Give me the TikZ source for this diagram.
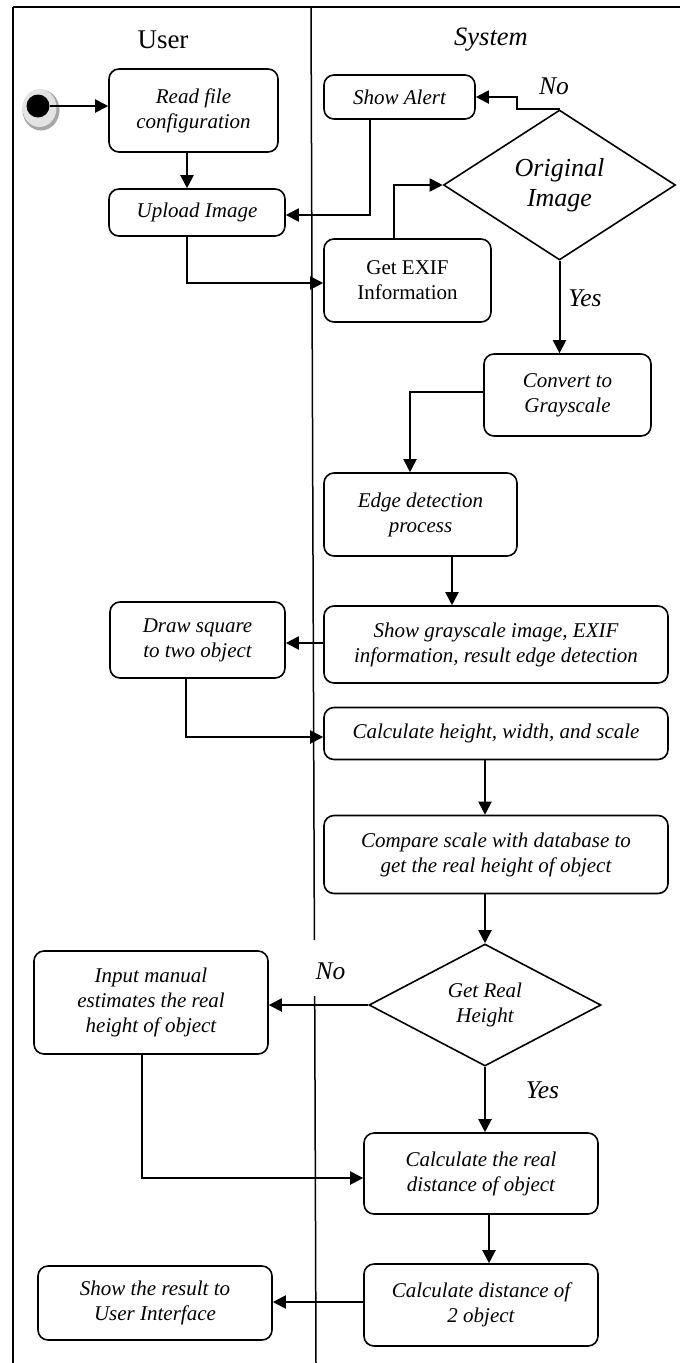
\documentclass[tikz,border=0pt]{standalone}
\usepackage{fontspec}
\setmainfont{Liberation Serif}
\usetikzlibrary{arrows.meta,shapes.geometric}
\begin{document}
\begin{tikzpicture}[x=1pt,y=-1pt,
  box/.style={draw, line width=1.6pt, rounded corners=10pt, inner sep=0pt, align=center,
    font=\itshape\fontsize{21}{25}\selectfont},
  dec/.style={draw, diamond, line width=1.6pt, inner sep=0pt, align=center},
  flow/.style={line width=2pt, -{Triangle[length=13pt,width=13pt]}},
  lbl/.style={font=\itshape\fontsize{25.5}{28}\selectfont, inner sep=0pt},
  lane/.style={font=\fontsize{27}{30}\selectfont, inner sep=0pt}]
\useasboundingbox (0,0) rectangle (680,1363);
% frame and lanes
\draw[line width=2.5pt] (13,7) -- (680,7);
\draw[line width=1.5pt] (13,7) -- (13,1363);
\draw[line width=1.5pt] (311,7) -- (314.4,940);
\draw[line width=1.5pt] (314.7,996) -- (316,1363);
\node[lane] (user) at (163,40) {User};
\node[lane, font=\itshape\fontsize{26.5}{30}\selectfont] (system) at (491,40) {System};
% start
\fill[gray!70] (41,110) ellipse [x radius=18.5pt, y radius=20.5pt];
\fill[gray!22] (39.5,108) ellipse [x radius=17pt, y radius=19pt];
\node[circle, fill=black, minimum size=23pt, inner sep=0pt] (start) at (38,106) {};
% nodes
\node[box, minimum width=169pt, minimum height=83pt] (readf) at (193.5,110.5) {Read file\\configuration};
\node[box, minimum width=176pt, minimum height=47pt] (upload) at (197,212.5) {Upload Image};
\node[box, minimum width=151pt, minimum height=44pt] (alert) at (399.5,97) {Show Alert};
\node[dec, aspect=1.55, minimum width=232pt, minimum height=150pt,
  font=\itshape\fontsize{26}{30}\selectfont] (orig) at (559.5,185) {Original\\Image};
\node[box, font=\upshape\fontsize{21}{25}\selectfont, minimum width=167pt, minimum height=83pt] (exif) at (407.5,280.5) {Get EXIF\\Information};
\node[box, minimum width=167pt, minimum height=82pt] (convert) at (567.5,395) {Convert to\\Grayscale};
\node[box, minimum width=193pt, minimum height=83pt] (edge) at (420.5,514.5) {Edge detection\\process};
\node[box, minimum width=175pt, minimum height=76pt] (square) at (197.5,640) {Draw square\\to two object};
\node[box, minimum width=344pt, minimum height=77pt] (showgray) at (496,644.5) {Show grayscale image, EXIF\\information, result edge detection};
\node[box, minimum width=344pt, minimum height=52pt] (calch) at (496,733.5) {Calculate height, width, and scale};
\node[box, minimum width=344pt, minimum height=78pt] (compare) at (496,854.5) {Compare scale with database to\\get the real height of object};
\node[dec, aspect=1.9, minimum width=232pt, minimum height=122pt,
  font=\itshape\fontsize{21}{25}\selectfont] (real) at (485,1005) {Get Real\\Height};
\node[box, minimum width=234pt, minimum height=103pt] (input) at (151,1002.5) {Input manual\\estimates the real\\height of object};
\node[box, minimum width=234pt, minimum height=81pt] (calcreal) at (481,1173.5) {Calculate the real\\distance of object};
\node[box, minimum width=234pt, minimum height=82pt] (calcdist) at (481,1305) {Calculate distance of\\2 object};
\node[box, minimum width=234pt, minimum height=74pt] (result) at (155,1303) {Show the result to\\User Interface};
% labels
\node[lbl] (no1) at (554,86.5) {No};
\node[lbl] (yes1) at (585,298.5) {Yes};
\node[lbl] (no2) at (330.5,971) {No};
\node[lbl] (yes2) at (542.5,1090) {Yes};
% connectors
\draw[flow] (start.east) -- (start.east -| readf.west);
\draw[flow] ([xshift=-6.5pt]readf.south) -- ([xshift=-6.5pt]readf.south |- upload.north);
\draw[flow] ([xshift=-10pt]upload.south) |- ([yshift=-2.5pt]exif.west);
\draw[flow] ([xshift=-13.5pt]exif.north) |- (orig.west);
\draw[flow] (orig.north) -- ++(-43,0) |- (alert.east);
\draw[flow] ([xshift=-30pt]alert.south) |- ([yshift=-2.5pt]upload.east);
\draw[flow] (orig.south) -- (orig.south |- convert.north);
\draw[flow] ([yshift=3pt]convert.west) -| ([xshift=-10.5pt]edge.north);
\draw[flow] ([xshift=31.5pt]edge.south) -- ([xshift=31.5pt]edge.south |- showgray.north);
\draw[flow] ([yshift=1.5pt]showgray.west) -- ([yshift=1.5pt]showgray.west -| square.east);
\draw[flow] ([xshift=-11.5pt]square.south) |- ([yshift=-3.5pt]calch.west);
\draw[flow] ([xshift=-11pt]calch.south) -- ([xshift=-11pt]calch.south |- compare.north);
\draw[flow] (compare.south -| real.north) -- (real.north);
\draw[flow] (real.west) -- (real.west -| input.east);
\draw[flow] (real.south) -- (real.south |- calcreal.north);
\draw[flow] ([xshift=-9pt]input.south) |- ([yshift=-4.5pt]calcreal.west);
\draw[flow] ([xshift=8pt]calcreal.south) -- ([xshift=8pt]calcreal.south |- calcdist.north);
\draw[flow] ([yshift=3pt]calcdist.west) -- ([yshift=3pt]calcdist.west -| result.east);
\end{tikzpicture}
\end{document}
